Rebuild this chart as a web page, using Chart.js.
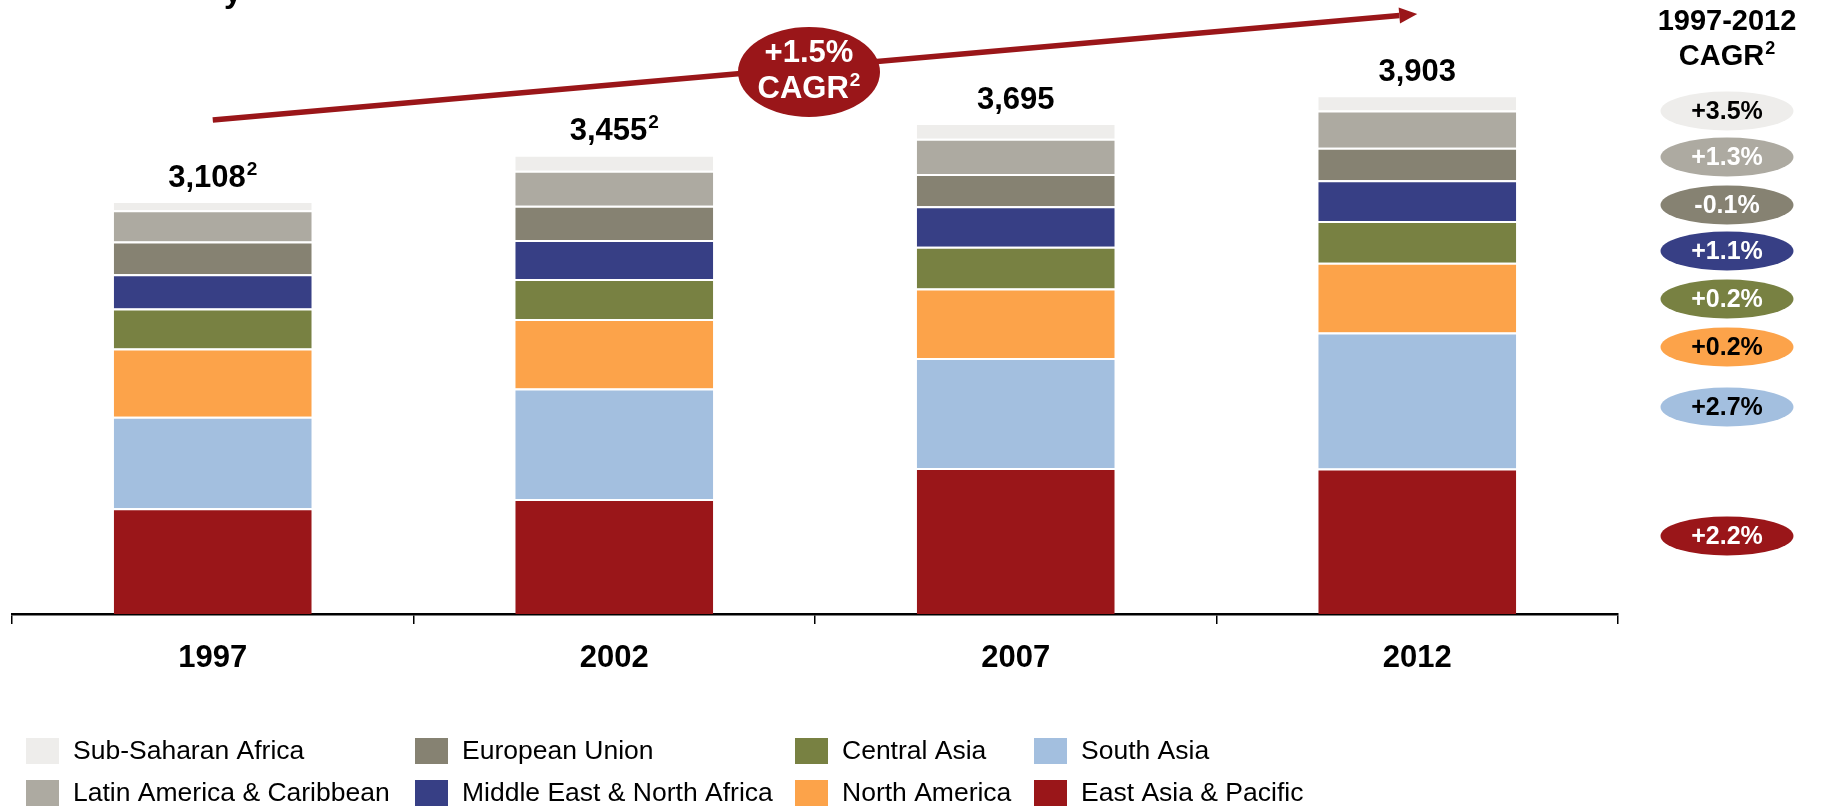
<!DOCTYPE html>
<html><head><meta charset="utf-8">
<script src="https://cdn.jsdelivr.net/npm/chart.js@4/dist/chart.umd.min.js"></script>
<style>html,body{margin:0;padding:0;background:#fff;overflow:hidden}canvas{display:block}</style>
</head><body>
<canvas id="c" width="1822" height="806"></canvas>
<script>
const years = ['1997', '2002', '2007', '2012'];
const totalLabels = ['3,108', '3,455', '3,695', '3,903'];
const totalNotes = ['2', '2', '', ''];
const seriesNames = ['East Asia & Pacific', 'South Asia', 'North America', 'Central Asia',
  'Middle East & North Africa', 'European Union', 'Latin America & Caribbean', 'Sub-Saharan Africa'];
const seriesColors = ['#9A1619', '#A3BFDF', '#FCA34A', '#788142', '#373F85', '#868272', '#ADAAA1', '#EEEDEB'];
const eastAsiaPacific = [795, 866, 1099, 1095];
const southAsia = [689, 831, 827, 1023];
const northAmerica = [514, 523, 524, 525];
const centralAsia = [301, 301, 313, 315];
const middleEastNorthAfrica = [258, 293, 305, 306];
const europeanUnion = [246, 259, 243, 245];
const latinAmericaCaribbean = [235, 263, 265, 280];
const subSaharanAfrica = [70, 119, 119, 114];
const cagrLabels = ['+2.2%', '+2.7%', '+0.2%', '+0.2%', '+1.1%', '-0.1%', '+1.3%', '+3.5%'];
const cagrTextColors = ['#fff', '#000', '#000', '#fff', '#fff', '#fff', '#fff', '#000'];
const overallCagr = ['+1.5%', 'CAGR', '2'];
const cagrHeader = ['1997-2012', 'CAGR', '2'];
// legend laid out column by column (top row first)
const legendColumns = [
  ['Sub-Saharan Africa', 'Latin America & Caribbean'],
  ['European Union', 'Middle East & North Africa'],
  ['Central Asia', 'North America'],
  ['South Asia', 'East Asia & Pacific']
];

const seriesData = [eastAsiaPacific, southAsia, northAmerica, centralAsia,
  middleEastNorthAfrica, europeanUnion, latinAmericaCaribbean, subSaharanAfrica];

const FONT = '"Liberation Sans", Arial, Helvetica, sans-serif';

function drawSup(ctx, text, sup, cx, cy, size, color) {
  ctx.save();
  ctx.fillStyle = color;
  ctx.textBaseline = 'middle';
  ctx.textAlign = 'left';
  ctx.font = 'bold ' + size + 'px ' + FONT;
  const w1 = ctx.measureText(text).width;
  const supSize = Math.round(size * 0.62);
  ctx.font = 'bold ' + supSize + 'px ' + FONT;
  const w2 = sup ? ctx.measureText(sup).width + 1 : 0;
  const x0 = cx - (w1 + w2) / 2;
  ctx.font = 'bold ' + size + 'px ' + FONT;
  ctx.fillText(text, x0, cy);
  if (sup) {
    ctx.font = 'bold ' + supSize + 'px ' + FONT;
    ctx.fillText(sup, x0 + w1 + 1, cy - size * 0.28);
  }
  ctx.restore();
}

function ellipse(ctx, cx, cy, rx, ry, color) {
  ctx.beginPath();
  ctx.ellipse(cx, cy, rx, ry, 0, 0, Math.PI * 2);
  ctx.fillStyle = color;
  ctx.fill();
}

const overlay = {
  id: 'overlay',
  afterDraw(chart) {
    const ctx = chart.ctx;
    const xs = chart.scales.x, ys = chart.scales.y;

    // cut-off title fragment at the very top
    ctx.save();
    ctx.fillStyle = '#000';
    ctx.font = 'bold 32px ' + FONT;
    ctx.textBaseline = 'alphabetic';
    ctx.fillText('y', 224, 2);
    ctx.restore();

    // totals above bars
    years.forEach((y, i) => {
      const sum = seriesData.reduce((a, s) => a + s[i], 0);
      const x = xs.getPixelForValue(i);
      const top = ys.getPixelForValue(sum);
      drawSup(ctx, totalLabels[i], totalNotes[i], x, top - 23, 31, '#000');
    });

    // growth arrow
    const x0 = xs.getPixelForValue(0), y0 = 120;
    const x1 = xs.getPixelForValue(years.length - 1), y1 = 14;
    const ang = Math.atan2(y1 - y0, x1 - x0);
    const headL = 18, headW = 8;
    const bx = x1 - headL * Math.cos(ang), by = y1 - headL * Math.sin(ang);
    ctx.save();
    ctx.strokeStyle = '#9A1619';
    ctx.fillStyle = '#9A1619';
    ctx.lineWidth = 5.5;
    ctx.beginPath();
    ctx.moveTo(x0, y0);
    ctx.lineTo(bx, by);
    ctx.stroke();
    ctx.beginPath();
    ctx.moveTo(x1, y1);
    ctx.lineTo(bx + headW * Math.sin(ang), by - headW * Math.cos(ang));
    ctx.lineTo(bx - headW * Math.sin(ang), by + headW * Math.cos(ang));
    ctx.closePath();
    ctx.fill();
    ctx.restore();

    // overall CAGR bubble
    ellipse(ctx, 809, 72, 71, 45, '#9A1619');
    drawSup(ctx, overallCagr[0], '', 809, 53, 31, '#fff');
    drawSup(ctx, overallCagr[1], overallCagr[2], 809, 89, 31, '#fff');

    // right CAGR header
    drawSup(ctx, cagrHeader[0], '', 1727, 22, 29, '#000');
    drawSup(ctx, cagrHeader[1], cagrHeader[2], 1727, 57, 29, '#000');

    // per-region CAGR badges (top region first)
    const badgeY = [111, 157, 205, 251, 299, 347, 407, 536];
    for (let k = 0; k < cagrLabels.length; k++) {
      const si = cagrLabels.length - 1 - k;
      ellipse(ctx, 1727, badgeY[k], 66.5, 19.5, seriesColors[si]);
      drawSup(ctx, cagrLabels[si], '', 1727, badgeY[k] + 1, 25, cagrTextColors[si]);
    }

    // legend
    const colBox = [26, 415, 795, 1034];
    const rowY = [751, 793];
    ctx.save();
    ctx.font = '26.5px ' + FONT;
    ctx.textBaseline = 'middle';
    ctx.textAlign = 'left';
    legendColumns.forEach((col, c) => {
      col.forEach((name, r) => {
        const si = seriesNames.indexOf(name);
        ctx.fillStyle = seriesColors[si];
        ctx.fillRect(colBox[c], rowY[r] - 13, 33, 26);
        ctx.fillStyle = '#000';
        ctx.fillText(name, colBox[c] + 47, rowY[r] + 1);
      });
    });
    ctx.restore();
  }
};

new Chart(document.getElementById('c'), {
  type: 'bar',
  data: {
    labels: years,
    datasets: seriesNames.map((n, i) => ({
      label: n,
      data: seriesData[i],
      backgroundColor: seriesColors[i],
      borderColor: '#ffffff',
      borderWidth: { top: 2, bottom: 0, left: 0, right: 0 },
      borderSkipped: false,
      barPercentage: 0.493,
      categoryPercentage: 1
    }))
  },
  options: {
    responsive: false,
    animation: false,
    devicePixelRatio: 1,
    layout: { padding: { top: 16, left: 12, right: 204, bottom: 0 } },
    plugins: { legend: { display: false }, tooltip: { enabled: false } },
    scales: {
      x: {
        stacked: true,
        z: 1,
        afterFit(s) { s.height = 192; },
        grid: { display: true, drawOnChartArea: false, drawTicks: true, tickLength: 10, color: '#000', lineWidth: 1.5 },
        border: { display: true, color: '#000', width: 2.5 },
        ticks: { color: '#000', font: { family: FONT, size: 31, weight: 'bold' }, padding: 16, maxRotation: 0 }
      },
      y: { stacked: true, display: false, min: 0, max: 4500 }
    }
  },
  plugins: [overlay]
});
</script>
</body></html>
